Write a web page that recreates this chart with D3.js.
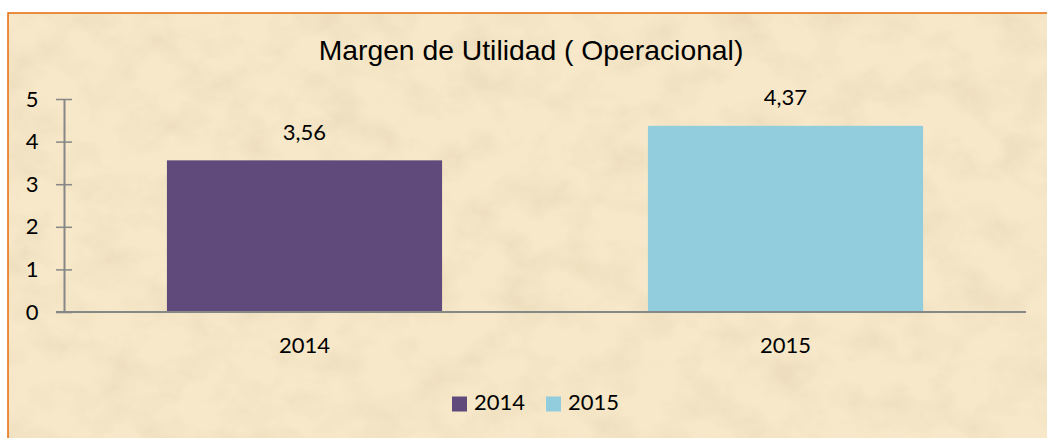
<!DOCTYPE html>
<html>
<head>
<meta charset="utf-8">
<script src="https://cdn.jsdelivr.net/npm/d3@7"></script>
<style>
  html, body { margin: 0; padding: 0; background: #ffffff; }
  svg { display: block; }
</style>
</head>
<body>
<svg id="chart" width="1047" height="438"></svg>
<script>
// Chart data
const categories = ["2014", "2015"];
const values = [3.56, 4.37];
const valueLabels = ["3,56", "4,37"];
const yTicks = [0, 1, 2, 3, 4, 5];
const colors = ["#604a7b", "#92cddd"];
const title = "Margen de Utilidad ( Operacional)";

const W = 1047, H = 438;
const svg = d3.select("#chart");

// Parchment texture background
const defs = svg.append("defs");
const f = defs.append("filter").attr("id", "parchment")
  .attr("x", 0).attr("y", 0).attr("width", "100%").attr("height", "100%");
f.append("feTurbulence").attr("type", "fractalNoise")
  .attr("baseFrequency", "0.022 0.028").attr("numOctaves", 4).attr("seed", 7).attr("result", "noise");
f.append("feColorMatrix").attr("in", "noise").attr("type", "matrix")
  .attr("values", "0 0 0 0 0.83  0 0 0 0 0.71  0 0 0 0 0.50  1.7 0 0 0 -0.68")
  .attr("result", "tint");
f.append("feComposite").attr("in", "tint").attr("in2", "SourceGraphic").attr("operator", "over");

const frame = { x: 8, y: 13 };
svg.append("rect")
  .attr("x", frame.x).attr("y", frame.y)
  .attr("width", W - frame.x + 5).attr("height", H - frame.y + 5)
  .attr("fill", "#f6e8c8")
  .attr("filter", "url(#parchment)");
svg.append("rect")
  .attr("x", frame.x).attr("y", frame.y)
  .attr("width", W - frame.x + 5).attr("height", H - frame.y + 5)
  .attr("fill", "none").attr("stroke", "#e46c0a").attr("stroke-width", 1.5);

// Plot area
const plot = { left: 64, right: 1026, top: 99, bottom: 312 };
const x = d3.scaleBand().domain(categories).range([plot.left, plot.right]).paddingInner(0).paddingOuter(0);
const y = d3.scaleLinear().domain([0, 5]).range([plot.bottom, plot.top]);
const barW = x.bandwidth() * 0.572;

const labelFont = "Lato, 'Open Sans', sans-serif";
const labelSize = 22;

// Title
svg.append("text")
  .attr("x", 531).attr("y", 53)
  .attr("text-anchor", "middle").attr("dominant-baseline", "middle")
  .attr("font-family", "'Liberation Sans', Arial, sans-serif")
  .attr("font-size", 28.3).attr("fill", "#000")
  .text(title);

// Bars
svg.selectAll("rect.bar").data(values).join("rect")
  .attr("class", "bar")
  .attr("x", (d, i) => x(categories[i]) + (x.bandwidth() - barW) / 2)
  .attr("y", d => y(d))
  .attr("width", barW)
  .attr("height", d => y(0) - y(d))
  .attr("fill", (d, i) => colors[i]);

// Value labels
svg.selectAll("text.val").data(values).join("text")
  .attr("class", "val")
  .attr("x", (d, i) => x(categories[i]) + x.bandwidth() / 2)
  .attr("y", d => y(d) - 26)
  .attr("text-anchor", "middle").attr("dominant-baseline", "middle")
  .attr("font-family", labelFont).attr("font-size", labelSize).attr("fill", "#000")
  .text((d, i) => valueLabels[i]);

// Y axis
const yAxis = d3.axisLeft(y).tickValues(yTicks).tickFormat(d3.format("d")).tickSize(0).tickPadding(0);
const yg = svg.append("g").attr("transform", `translate(${plot.left},0)`).call(yAxis);
yg.select(".domain").attr("stroke", "#878787").attr("stroke-width", 2);
yg.selectAll(".tick line").attr("x1", -8).attr("x2", 8).attr("stroke", "#878787").attr("stroke-width", 1.5);
yg.selectAll(".tick text")
  .attr("x", -32).attr("text-anchor", "middle")
  .attr("font-family", labelFont).attr("font-size", labelSize).attr("fill", "#000");

// X axis
const xAxis = d3.axisBottom(x).tickSize(0).tickPadding(0);
const xg = svg.append("g").attr("transform", `translate(0,${plot.bottom})`).call(xAxis);
xg.select(".domain").attr("d", `M${plot.left - 8},0H${plot.right}`)
  .attr("stroke", "#878787").attr("stroke-width", 2);
xg.selectAll(".tick text")
  .attr("y", 35).attr("dy", null).attr("dominant-baseline", "middle")
  .attr("font-family", labelFont).attr("font-size", labelSize).attr("fill", "#000");

// Legend
const legendX = [452, 546];
const lg = svg.selectAll("g.legend").data(categories).join("g")
  .attr("class", "legend")
  .attr("transform", (d, i) => `translate(${legendX[i]},404)`);
lg.append("rect").attr("x", 0).attr("y", -7.5).attr("width", 15).attr("height", 15)
  .attr("fill", (d, i) => colors[i]);
lg.append("text").attr("x", 22).attr("y", 0).attr("dominant-baseline", "middle")
  .attr("font-family", labelFont).attr("font-size", labelSize).attr("fill", "#000")
  .text(d => d);
</script>
</body>
</html>
